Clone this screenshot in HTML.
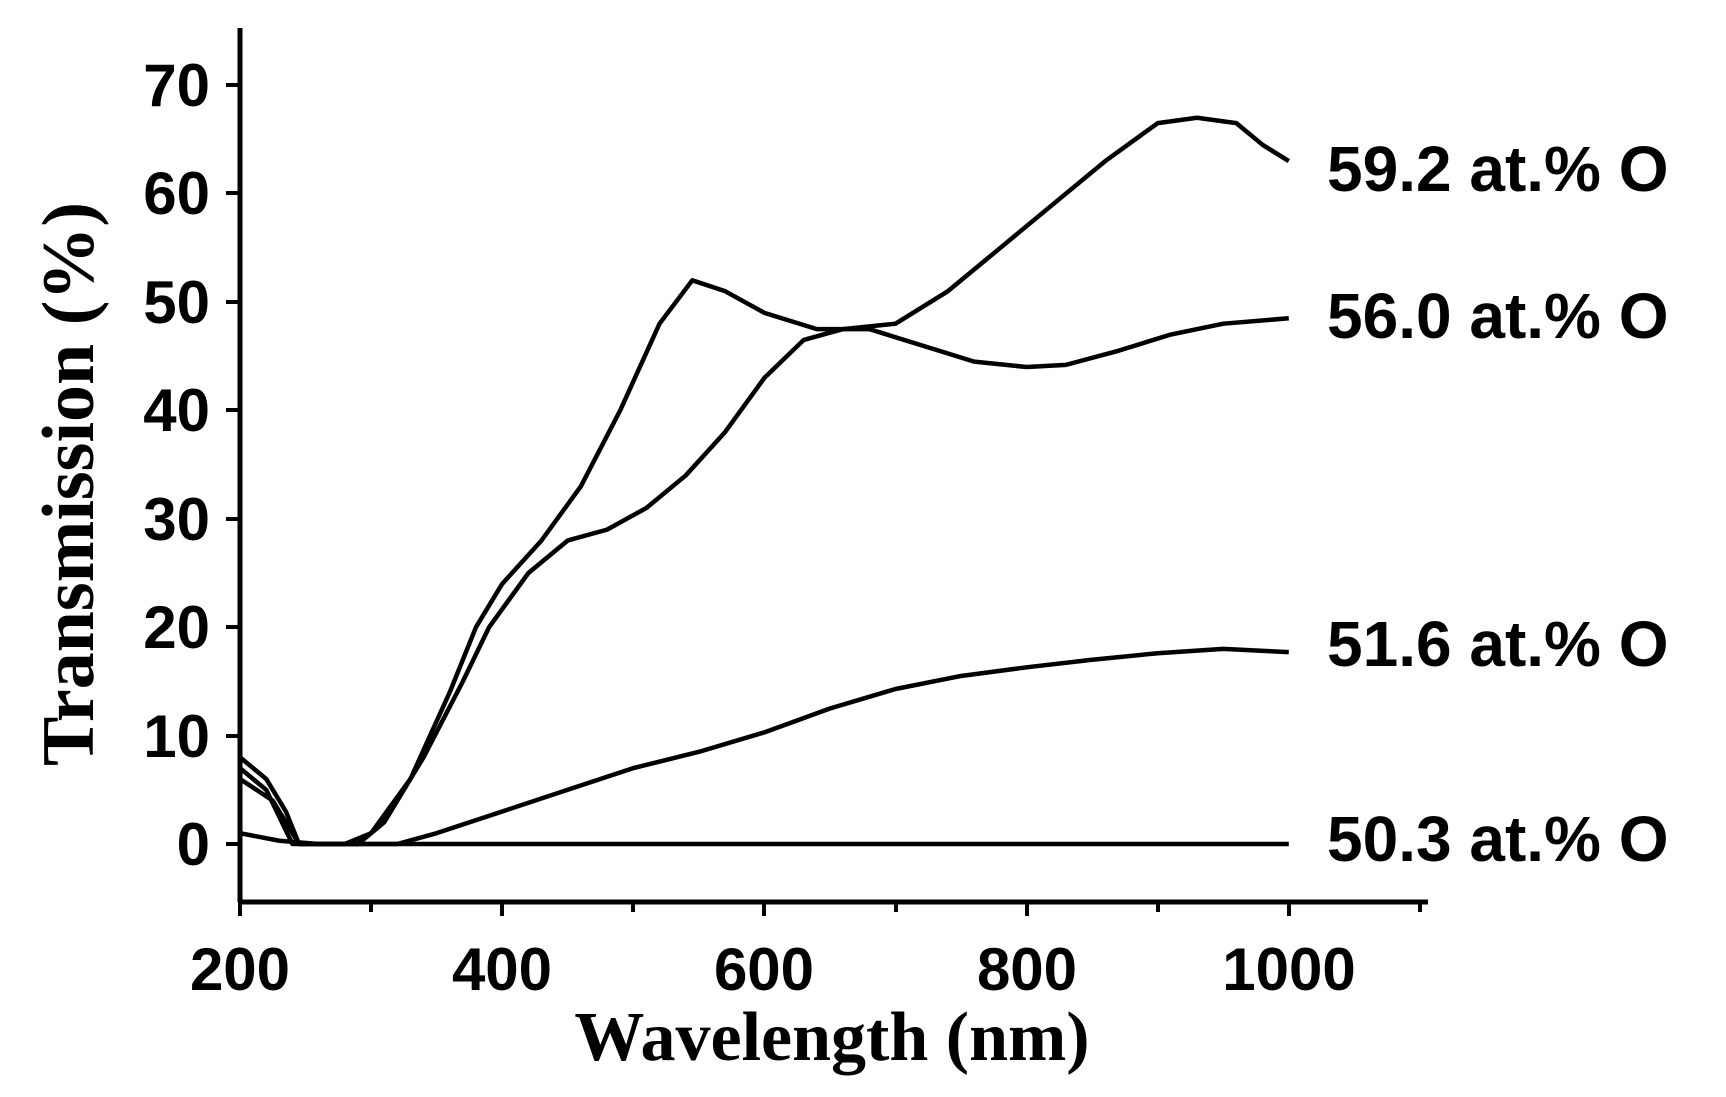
<!DOCTYPE html>
<html><head><style>body{margin:0;background:#fff}svg{display:block}</style></head><body>
<svg width="1726" height="1097" viewBox="0 0 1726 1097" xmlns="http://www.w3.org/2000/svg">
<g stroke="#000" stroke-width="5" fill="none">
<line x1="240" y1="28" x2="240" y2="902"/>
<line x1="238" y1="902" x2="1428" y2="902"/>
</g>
<g stroke="#000" stroke-width="4">
<line x1="226" y1="85" x2="240" y2="85"/><line x1="226" y1="193" x2="240" y2="193"/><line x1="226" y1="302" x2="240" y2="302"/><line x1="226" y1="410" x2="240" y2="410"/><line x1="226" y1="519" x2="240" y2="519"/><line x1="226" y1="627" x2="240" y2="627"/><line x1="226" y1="736" x2="240" y2="736"/><line x1="226" y1="844" x2="240" y2="844"/>
<line x1="240" y1="902" x2="240" y2="916"/><line x1="371" y1="902" x2="371" y2="912"/><line x1="502" y1="902" x2="502" y2="916"/><line x1="633" y1="902" x2="633" y2="912"/><line x1="764" y1="902" x2="764" y2="916"/><line x1="896" y1="902" x2="896" y2="912"/><line x1="1027" y1="902" x2="1027" y2="916"/><line x1="1158" y1="902" x2="1158" y2="912"/><line x1="1289" y1="902" x2="1289" y2="916"/><line x1="1420" y1="902" x2="1420" y2="912"/>
</g>
<g font-family="Liberation Sans, sans-serif" font-weight="bold" font-size="60" text-anchor="end">
<text x="210" y="106">70</text><text x="210" y="214">60</text><text x="210" y="323">50</text><text x="210" y="431">40</text><text x="210" y="540">30</text><text x="210" y="648">20</text><text x="210" y="757">10</text><text x="210" y="865">0</text>
</g>
<g font-family="Liberation Sans, sans-serif" font-weight="bold" font-size="60" text-anchor="middle">
<text x="240" y="990">200</text><text x="502" y="990">400</text><text x="764" y="990">600</text><text x="1027" y="990">800</text><text x="1289" y="990">1000</text>
</g>
<g font-family="Liberation Sans, sans-serif" font-weight="bold" font-size="64">
<text x="1327" y="191">59.2 at.% O</text><text x="1327" y="338">56.0 at.% O</text><text x="1327" y="666">51.6 at.% O</text><text x="1327" y="861">50.3 at.% O</text>
</g>
<text x="832" y="1060" font-family="Liberation Serif, serif" font-weight="bold" font-size="70" text-anchor="middle">Wavelength (nm)</text>
<text transform="translate(93,484) rotate(-90)" font-family="Liberation Serif, serif" font-weight="bold" font-size="74" text-anchor="middle">Transmission (%)</text>
<g transform="translate(240,844) scale(1.311,-10.84) translate(-200,0)" fill="none" stroke="#000" stroke-width="4.5" stroke-linejoin="round">
<path vector-effect="non-scaling-stroke" d="M200,7 L220,5 L240,0 L290,0 L310,2 L340,8 L370,15 L390,20 L420,25 L450,28 L480,29 L510,31 L540,34 L570,38 L600,43 L630,46.5 L660,47.5 L700,48 L740,51 L780,55 L820,59 L860,63 L900,66.5 L930,67 L960,66.5 L980,64.5 L1000,63"/>
<path vector-effect="non-scaling-stroke" d="M200,6 L225,4 L245,0 L280,0 L300,1 L330,6 L360,14 L380,20 L400,24 L430,28 L460,33 L490,40 L520,48 L545,52 L570,51 L600,49 L640,47.5 L680,47.5 L720,46 L760,44.5 L800,44 L830,44.2 L870,45.5 L910,47 L950,48 L1000,48.5"/>
<path vector-effect="non-scaling-stroke" d="M200,1 L230,0.3 L260,0 L320,0 L350,1 L400,3 L450,5 L500,7 L550,8.5 L600,10.3 L650,12.5 L700,14.3 L750,15.5 L800,16.3 L850,17 L900,17.6 L950,18 L1000,17.7"/>
<path vector-effect="non-scaling-stroke" d="M200,8 L220,6 L235,3 L245,0 L1000,0"/>
</g>
</svg>
</body></html>
